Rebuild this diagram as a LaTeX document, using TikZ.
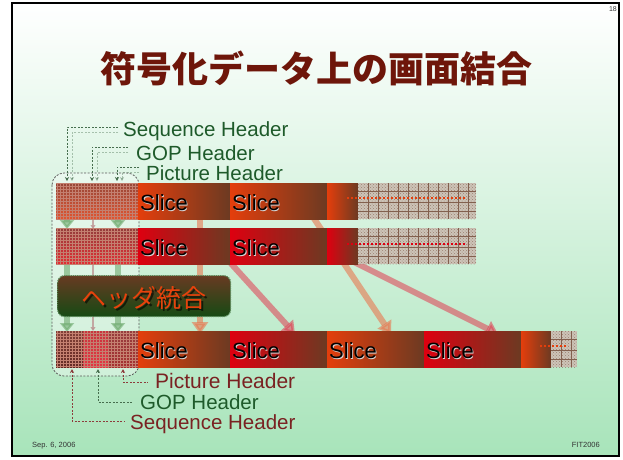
\documentclass[tikz,border=0pt]{standalone}
\usepackage{fontspec}
\setmainfont{Liberation Sans}
\newfontfamily\cjk{Noto Sans CJK JP}
\usetikzlibrary{arrows.meta,patterns}
\definecolor{bgG}{RGB}{168,228,186}
\definecolor{titleC}{RGB}{110,22,10}
\definecolor{lblG}{RGB}{30,90,42}
\definecolor{lblR}{RGB}{122,34,34}
\definecolor{leadGc}{RGB}{70,110,78}
\definecolor{leadRc}{RGB}{140,60,60}
\definecolor{brn}{RGB}{108,58,34}
\definecolor{orn}{RGB}{228,62,12}
\definecolor{rd}{RGB}{222,0,16}
\definecolor{hatchBg}{RGB}{205,196,184}
\definecolor{hatchLn}{RGB}{130,96,78}
\definecolor{arrO}{RGB}{232,120,80}
\definecolor{arrR}{RGB}{224,60,80}
\definecolor{grnA}{RGB}{110,170,110}
\definecolor{boxTop}{RGB}{104,58,34}
\definecolor{boxBot}{RGB}{22,74,20}
\definecolor{boxBd}{RGB}{90,140,90}
\definecolor{mergeTxt}{RGB}{232,66,12}
\definecolor{hdGrid}{RGB}{196,128,112}
\newcommand{\mkslice}[5]{%
  \node[blk, minimum width=#4, left color=#5, right color=brn] (#1) at (#2,#3) {};
  \node[slicetxt, text=white!85!black] (#1s) at ([xshift=2.8pt,yshift=-2.3pt]#1.west) {Slice};
  \node[slicetxt] (#1t) at ([xshift=2pt,yshift=-1.5pt]#1.west) {Slice};
}
\begin{document}
\begin{tikzpicture}[x=1pt,y=-1pt,
  blk/.style={anchor=north west,inner sep=0pt,outer sep=0pt,minimum height=36pt},
  slicetxt/.style={anchor=west,inner sep=0pt,font=\fontsize{22}{24}\selectfont},
  lbl/.style={anchor=base west,inner sep=0pt,font=\fontsize{20.5}{23}\selectfont},
  leadT/.style={draw=leadGc,dash pattern=on 2pt off 1.5pt,line width=0.7pt,-{Stealth[length=4pt,width=4pt]}},
  leadB/.style={dash pattern=on 2pt off 1.5pt,line width=0.7pt,{Stealth[length=4pt,width=4pt]}-},
  sarrO/.style={draw=arrO,line width=6pt,opacity=.6,-{Triangle[width=16pt,length=12pt]}},
  sarrR/.style={draw=arrR,line width=6pt,opacity=.55,-{Triangle[width=16pt,length=12pt]}},
  garr/.style={draw=grnA,line width=6pt,opacity=.6,-{Triangle[width=14pt,length=9pt]}},
  thinarr/.style={draw=leadRc!60,line width=1.2pt,opacity=.7,-{Triangle[width=5pt,length=4pt]}},
  hdr/.style={blk,postaction={pattern=grid,pattern color=hdGrid}},
  hatchblk/.style={blk,fill=hatchBg,postaction={pattern=crosshatch dots,pattern color=hatchLn!80}},
  dotln/.style={dash pattern=on 2pt off 2pt,line width=2pt},
]
\useasboundingbox (0,0) rectangle (623,459);
% background
\fill[white] (0,0) rectangle (623,459);
\shade[top color=white, bottom color=bgG] (12,3) rectangle (619,456);
\draw[black,line width=1.6pt] (12,3) rectangle (619,456);
% title, page no, footer
\node[font=\cjk\bfseries\fontsize{36}{40}\selectfont,text=titleC] (title) at (316,68) {符号化データ上の画面結合};
\node[font=\fontsize{7}{8}\selectfont,text=black!80,anchor=north east,inner sep=0pt] (pgno) at (617,6) {18};
\node[font=\fontsize{7.5}{9}\selectfont,text=black!80,anchor=base west,inner sep=0pt] (date) at (32,447) {Sep. 6, 2006};
\node[font=\fontsize{7.5}{9}\selectfont,text=black!80,anchor=base east,inner sep=0pt] (conf) at (600,447) {FIT2006};
% header group outline
\fill[white,opacity=.35,rounded corners=12pt] (52,173) rectangle (139,376);
\draw[black!65,dash pattern=on 2pt off 1.5pt,line width=.8pt,rounded corners=12pt] (52,173) rectangle (139,376);
% green header arrows
\coordinate (g1a) at (67,214); \coordinate (g1b) at (67,229);
\coordinate (g2a) at (118,214); \coordinate (g2b) at (118,229);
\coordinate (g3a) at (67,260); \coordinate (g3b) at (67,332);
\coordinate (g4a) at (118,260); \coordinate (g4b) at (118,332);
\coordinate (g5a) at (93,214); \coordinate (g5b) at (93,229);
\coordinate (g6a) at (93,260); \coordinate (g6b) at (93,331);
\draw[garr] (g1a) -- (g1b);
\draw[garr] (g2a) -- (g2b);
\draw[garr] (g3a) -- (g3b);
\draw[garr] (g4a) -- (g4b);
\draw[thinarr] (g5a) -- (g5b);
\draw[thinarr] (g6a) -- (g6b);
% slice movement arrows
\coordinate (a1s) at (200,214); \coordinate (a1e) at (200,334);
\coordinate (a2s) at (226,258); \coordinate (a2e) at (295,334);
\coordinate (a3s) at (311,214); \coordinate (a3e) at (391,334);
\coordinate (a4s) at (346,258); \coordinate (a4e) at (498,334);
\draw[sarrO] (a1s) -- (a1e);
\draw[sarrR] (a2s) -- (a2e);
\draw[sarrO] (a3s) -- (a3e);
\draw[sarrR] (a4s) -- (a4e);
% ---- row 1
\node[hdr, minimum width=82pt, top color={rgb,255:red,150;green,70;blue,56}, bottom color={rgb,255:red,226;green,84;blue,48}] (h1) at (56,183) {};
\mkslice{r1a}{138}{183}{92pt}{orn}
\mkslice{r1b}{230}{183}{97pt}{orn}
\node[blk, minimum width=31pt, left color=orn, right color=brn] (r1c) at (327,183) {};
\node[hatchblk, minimum width=118pt] (r1h) at (358,183) {};
\foreach \i in {368,378,...,468} \draw[hatchLn,line width=.6pt] (\i,183) -- (\i,219);
\foreach \j in {191,202,211} \draw[hatchLn,line width=.6pt] (358,\j) -- (476,\j);
\coordinate (d1s) at (347,198); \coordinate (d1e) at (467,198);
\draw[orn,dotln] (d1s) -- (d1e);
% ---- row 2
\node[hdr, minimum width=82pt, top color={rgb,255:red,146;green,62;blue,60}, bottom color={rgb,255:red,228;green,44;blue,50}] (h2) at (56,228) {};
\mkslice{r2a}{138}{228}{92pt}{rd}
\mkslice{r2b}{230}{228}{97pt}{rd}
\node[blk, minimum width=31pt, left color=rd, right color=brn] (r2c) at (327,228) {};
\node[hatchblk, minimum width=118pt] (r2h) at (358,228) {};
\foreach \i in {368,378,...,468} \draw[hatchLn,line width=.6pt] (\i,228) -- (\i,264);
\foreach \j in {236,247,256} \draw[hatchLn,line width=.6pt] (358,\j) -- (476,\j);
\coordinate (d2s) at (347,244); \coordinate (d2e) at (467,244);
\draw[rd,dotln] (d2s) -- (d2e);
% ---- row 3
\node[hdr, minimum width=27pt, top color={rgb,255:red,130;green,64;blue,56}, bottom color={rgb,255:red,100;green,42;blue,36}] (h3a) at (56,331) {};
\node[hdr, minimum width=25pt, top color={rgb,255:red,200;green,54;blue,62}, bottom color={rgb,255:red,230;green,52;blue,66}] (h3b) at (83,331) {};
\node[hdr, minimum width=30pt, top color={rgb,255:red,150;green,62;blue,62}, bottom color={rgb,255:red,166;green,48;blue,48}] (h3c) at (108,331) {};
\mkslice{r3a}{138}{331}{92pt}{orn}
\mkslice{r3b}{230}{331}{97pt}{rd}
\mkslice{r3c}{327}{331}{97pt}{orn}
\mkslice{r3d}{424}{331}{97pt}{rd}
\node[blk, minimum width=30pt, left color=orn, right color=brn] (r3e) at (521,331) {};
\node[hatchblk, minimum width=26pt] (r3h) at (551,331) {};
\foreach \i in {561,571} \draw[hatchLn,line width=.6pt] (\i,331) -- (\i,367);
\foreach \j in {339,350,359} \draw[hatchLn,line width=.6pt] (551,\j) -- (577,\j);
\coordinate (d3s) at (540,346); \coordinate (d3e) at (568,346);
\draw[orn,dotln] (d3s) -- (d3e);
% ---- merge box
\node[anchor=north west, inner sep=0pt, minimum width=173pt, minimum height=41pt, rounded corners=7pt,
      top color=boxTop, bottom color=boxBot, draw=boxBd, densely dotted, line width=1.2pt] (merge) at (57,275) {};
\node[font=\cjk\fontsize{25}{28}\selectfont,text=black,opacity=.6,inner sep=0pt] (mergeSh) at (145.5,299.5) {ヘッダ統合};
\node[font=\cjk\fontsize{25}{28}\selectfont,text=mergeTxt,inner sep=0pt] (mergeT) at (144,298) {ヘッダ統合};
% ---- top labels
\node[lbl,text=lblG] (lseq) at (123,136) {Sequence Header};
\node[lbl,text=lblG] (lgop) at (136,160) {GOP Header};
\node[lbl,text=lblG] (lpic) at (146,180) {Picture Header};
\coordinate (sqC) at (118,127); \coordinate (sqE) at (67,181);
\coordinate (sqC2) at (118,132); \coordinate (sqE2) at (72,181);
\coordinate (gpC) at (128,147); \coordinate (gpE) at (92,181);
\coordinate (gpC2) at (128,152); \coordinate (gpE2) at (97,181);
\coordinate (pcC) at (139,167); \coordinate (pcE) at (117,181);
\coordinate (pcC2) at (139,172); \coordinate (pcE2) at (122,181);
\draw[leadT] (sqC) -| (sqE);
\draw[leadT,opacity=.4] (sqC2) -| (sqE2);
\draw[leadT] (gpC) -| (gpE);
\draw[leadT,opacity=.4] (gpC2) -| (gpE2);
\draw[leadT] (pcC) -| (pcE);
\draw[leadT,opacity=.4] (pcC2) -| (pcE2);
% ---- bottom labels
\node[lbl,text=lblR,font=\fontsize{21}{23}\selectfont] (bpic) at (155,388) {Picture Header};
\node[lbl,text=lblG] (bgop) at (140,409) {GOP Header};
\node[lbl,text=lblR] (bseq) at (130,429) {Sequence Header};
\coordinate (bpS) at (123,369); \coordinate (bpE) at (148,382);
\coordinate (bgS) at (98,369); \coordinate (bgE) at (133,402);
\coordinate (bsS) at (72,369); \coordinate (bsE) at (125,421);
\draw[leadB,draw=leadRc] (bpS) |- (bpE);
\draw[leadB,draw=leadGc] (bgS) |- (bgE);
\draw[leadB,draw=leadRc] (bsS) |- (bsE);
\end{tikzpicture}
\end{document}
